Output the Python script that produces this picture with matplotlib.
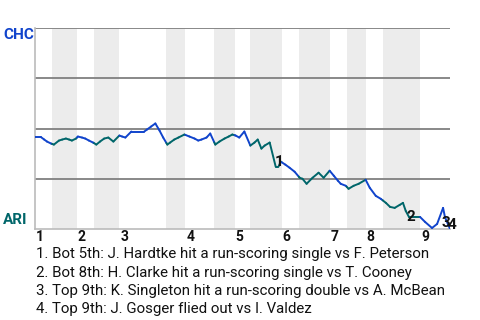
import numpy as np
import matplotlib
matplotlib.use('Agg')
import matplotlib.pyplot as plt
from matplotlib.collections import LineCollection

plt.rcParams['font.family'] = ['Roboto', 'DejaVu Sans']

# Game progress (play units) and CHC win probability.
playPos = [0, 1.3, 2.0, 2.6, 3.5, 4.1, 5.2, 5.9, 6.7, 7.4, 8.0, 8.9, 9.3, 10.2, 10.9,
           11.7, 12.6, 13.3, 14.1, 15.0, 15.9, 17.0, 18.3, 18.9, 19.6, 20.9, 23.7,
           24.3, 25.2, 26.1, 27.0, 27.8, 28.7, 29.3, 30.2, 31.1, 32.4, 33.5, 34.6,
           35.4, 36.1, 37.2, 38.0, 39.1, 40.0, 41.1, 42.0, 42.8, 43.5, 44.3, 45.4,
           46.7, 47.6, 48.3, 49.1, 49.8, 50.9, 52.2, 52.8, 53.3, 54.3, 55.2, 56.3,
           57.4, 58.0, 58.9, 60.2, 61.5, 62.6, 63.9, 64.8, 65.7, 66.3, 67.4, 68.0,
           69.1, 70.2, 71.7, 72.6, 73.9, 75.0, 76.1, 77.0, 78.0, 79.1, 79.8, 80.4,
           81.1, 83.5, 84.6, 86.1, 87.2, 88.5, 88.9, 90.0]
chcProb = [0.457, 0.457, 0.445, 0.435, 0.425, 0.42, 0.44, 0.445, 0.45, 0.445, 0.44,
           0.45, 0.46, 0.455, 0.45, 0.44, 0.43, 0.42, 0.435, 0.45, 0.455, 0.435,
           0.465, 0.46, 0.455, 0.485, 0.485, 0.495, 0.51, 0.525, 0.49, 0.455, 0.42,
           0.43, 0.445, 0.455, 0.47, 0.46, 0.45, 0.44, 0.445, 0.455, 0.475, 0.42,
           0.435, 0.45, 0.46, 0.47, 0.465, 0.455, 0.485, 0.415, 0.43, 0.445, 0.40,
           0.415, 0.43, 0.31, 0.31, 0.335, 0.32, 0.305, 0.285, 0.255, 0.25, 0.225,
           0.255, 0.28, 0.255, 0.29, 0.265, 0.24, 0.225, 0.215, 0.20, 0.215, 0.225,
           0.245, 0.205, 0.165, 0.15, 0.13, 0.11, 0.105, 0.12, 0.13, 0.09, 0.06,
           0.06, 0.035, 0.005, 0.025, 0.105, 0.06, 0.0]

inningLabels = ['1', '2', '3', '4', '5', '6', '7', '8', '9']
inningStart = [0, 9.1, 18.3, 32.6, 43.3, 53.5, 63.9, 71.7, 83.5]
bottomStart = [3.7, 12.8, 28.5, 38.9, 46.7, 57.2, 67.6, 75.4]
gameEnd = 90.0

eventNums = ['1', '2', '3', '4']
eventPos = [53.0, 81.5, 89.2, 90.5]
eventProb = [0.335, 0.06, 0.03, 0.02]
eventTexts = ['1. Bot 5th: J. Hardtke hit a run-scoring single vs F. Peterson',
              '2. Bot 8th: H. Clarke hit a run-scoring single vs T. Cooney',
              '3. Top 9th: K. Singleton hit a run-scoring double vs A. McBean',
              '4. Top 9th: J. Gosger flied out vs I. Valdez']

blue = '#1144cc'
teal = '#00666a'

fig = plt.figure(figsize=(4.8, 3.2), dpi=100)
ax = fig.add_axes([35 / 480, 91 / 320, 415 / 480, 201 / 320])
ax.set_xlim(0, gameEnd)
ax.set_ylim(0, 1)

# Shade bottom halves (ARI batting).
for b, s in zip(bottomStart, inningStart[1:]):
    ax.axvspan(b, s, color='#ececec', lw=0, zorder=0)

for g in [0.25, 0.5, 0.75, 1.0]:
    ax.axhline(g, color='#888888', lw=1.4, zorder=1)

# Split the line at half-inning boundaries and colour each piece.
edges = sorted(inningStart[1:] + bottomStart)
xs = np.array(sorted(set(playPos) | set(edges)))
ys = np.interp(xs, playPos, chcProb)
segs = []
cols = []
for i in range(len(xs) - 1):
    mid = (xs[i] + xs[i + 1]) / 2
    isBottom = any(b <= mid < s for b, s in zip(bottomStart, inningStart[1:]))
    segs.append([(xs[i], ys[i]), (xs[i + 1], ys[i + 1])])
    cols.append(teal if isBottom else blue)
ax.add_collection(LineCollection(segs, colors=cols, linewidths=1.4, zorder=3,
                                 capstyle='round', joinstyle='round'))

for n, x, y in zip(eventNums, eventPos, eventProb):
    ax.text(x, y, n, fontsize=11, fontweight='bold', ha='center', va='center',
            color='#111111', zorder=4)

for spine in ['top', 'right']:
    ax.spines[spine].set_visible(False)
ax.spines['left'].set_color('#bbbbbb')
ax.spines['bottom'].set_color('#bbbbbb')
ax.spines['left'].set_linewidth(1.2)
ax.spines['bottom'].set_linewidth(1.2)
ax.set_xticks([])
ax.set_yticks([])

for lab, x in zip(inningLabels, inningStart):
    ax.text(x + 0.2, -0.04, lab, fontsize=10, fontweight='bold', ha='left',
            va='center', transform=ax.get_xaxis_transform(), color='#111111')

fig.text(3 / 480, 1 - 35 / 320, 'CHC', fontsize=11, fontweight='bold',
         color=blue, ha='left', va='center')
fig.text(3 / 480, 1 - 220 / 320, 'ARI', fontsize=11, fontweight='bold',
         color=teal, ha='left', va='center')

for i, t in enumerate(eventTexts):
    fig.text(36 / 480, 1 - (254 + 18.5 * i) / 320, t, fontsize=10.8,
             color='#111111', ha='left', va='center')

fig.savefig('out.png', dpi=100)
